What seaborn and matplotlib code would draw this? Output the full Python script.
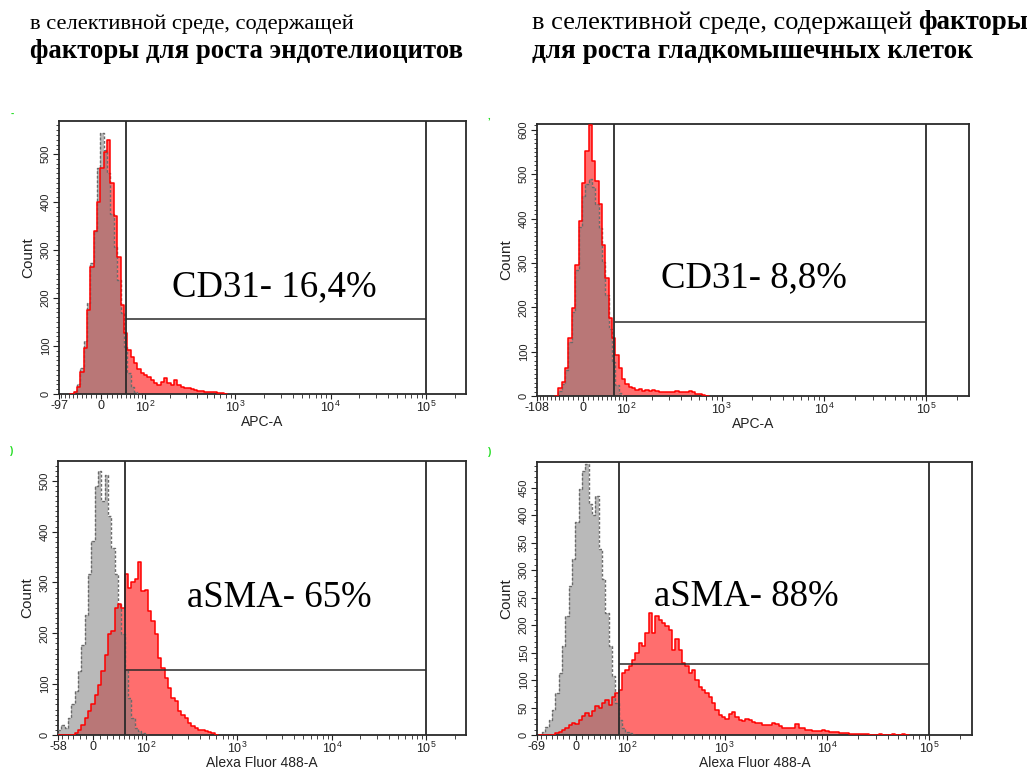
import matplotlib
matplotlib.use("Agg")
import matplotlib.pyplot as plt
import numpy as np
import seaborn as sns
from matplotlib import font_manager
from matplotlib.ticker import MultipleLocator

W, H = 1035, 769

# header text
head_left = ["в селективной среде, содержащей", "факторы для роста эндотелиоцитов"]
head_right_reg = "в селективной среде, содержащей"
head_right_bold = ["факторы", "для роста гладкомышечных клеток"]

# ---- top left: CD31, endothelial growth medium
# (first bin edge, last bin edge, number of bins) - bins uniform on the display scale
tl_bins = (-65.5, 827.0, 47)
tl_iso = [0, 5, 20, 55, 110, 190, 272, 340, 470, 545, 508, 460, 376, 307, 237, 168,
          98, 43, 15, 5, 0]
tl_stain = [0, 5, 15, 45, 95, 175, 265, 340, 400, 470, 505, 530, 440, 370, 285, 185,
            128, 92, 78, 64, 53, 43, 40, 36, 29, 22, 19, 26, 33, 22, 19, 29, 19, 15,
            13, 12, 10, 8, 7, 6, 5, 5, 5, 4, 3, 2, 0]

# ---- top right: CD31, smooth muscle growth medium
tr_bins = (-58.6, 742.5, 46)
tr_iso = [0, 12, 28, 58, 122, 190, 285, 380, 450, 478, 490, 470, 432, 379, 303, 228,
          152, 77, 24, 6, 0]
tr_stain = [0, 17, 32, 62, 130, 198, 296, 394, 480, 552, 611, 530, 485, 432, 341, 266,
            175, 130, 92, 62, 39, 28, 20, 17, 13, 15, 11, 13, 11, 13, 11, 10, 9, 9, 9,
            10, 11, 10, 9, 10, 11, 8, 5, 4, 3, 0]

# ---- bottom left: aSMA, endothelial growth medium
bl_bins = (-58.0, 624.0, 48)
bl_iso = [10, 20, 14, 33, 60, 86, 125, 178, 237, 316, 381, 490, 520, 460, 512, 430,
          368, 316, 257, 198, 125, 73, 33, 14, 7, 4, 0]
bl_stain = [0, 0, 0, 0, 0, 4, 10, 20, 33, 47, 60, 79, 99, 125, 158, 198, 204, 250,
            257, 250, 316, 289, 300, 306, 340, 283, 285, 243, 224, 198, 152, 132, 112,
            93, 73, 66, 47, 40, 33, 24, 17, 14, 10, 9, 7, 6, 4, 0]

# ---- bottom right: aSMA, smooth muscle growth medium
br_bins = (-65.4, 62986.0, 111)
br_iso = [0, 6, 15, 27, 46, 76, 113, 162, 216, 271,
          320, 387, 448, 480, 494, 420, 400, 436, 338, 284,
          223, 162, 107, 58, 27, 12, 6, 3, 0]
br_stain = [0, 0, 0, 0, 0, 3, 6, 9, 12, 18,
            22, 20, 28, 35, 40, 34, 43, 52, 49, 58,
            64, 55, 70, 76, 82, 113, 119, 125, 137, 149,
            168, 162, 186, 223, 186, 216, 210, 204, 198, 192,
            155, 174, 155, 131, 125, 113, 119, 101, 88, 82,
            76, 70, 58, 45, 36, 33, 30, 38, 42, 33,
            28, 26, 30, 27, 24, 21, 21, 18, 18, 18,
            21, 20, 16, 13, 13, 12, 12, 20, 12, 12,
            10, 9, 7, 7, 7, 9, 7, 5, 5, 5,
            4, 4, 3, 2, 2, 2, 2, 1, 1, 0,
            0, 0, 1, 0, 0, 0, 1, 0, 0, 1,
            0]

panels = [
    dict(box=(59, 121, 466, 394), c=80, xmin=-97, ymax=569, ystep=100,
         bins=tl_bins, iso=tl_iso, stain=tl_stain, gate=(49, 156),
         label="CD31- 16,4%", text_at=(0.529, 0.392), xlabel="APC-A",
         mark=(12, 114, "-")),
    dict(box=(537, 124, 969, 396), c=88, xmin=-108, ymax=613, ystep=100,
         bins=tr_bins, iso=tr_iso, stain=tr_stain, gate=(65.7, 166),
         label="CD31- 8,8%", text_at=(0.502, 0.434), xlabel="APC-A",
         mark=(489, 116, ",")),
    dict(box=(58, 461, 466, 735), c=60, xmin=-58, ymax=539, ystep=100,
         bins=bl_bins, iso=bl_iso, stain=bl_stain, gate=(51, 128),
         label="aSMA- 65%", text_at=(0.543, 0.5), xlabel="Alexa Fluor 488-A",
         mark=(12, 451, ")")),
    dict(box=(537, 462, 972, 735), c=70, xmin=-69, ymax=497, ystep=50,
         bins=br_bins, iso=br_iso, stain=br_stain, gate=(78.8, 130),
         label="aSMA- 88%", text_at=(0.482, 0.505), xlabel="Alexa Fluor 488-A",
         mark=(490, 452, ")")),
]

sns.set_style("ticks")
installed = {f.name for f in font_manager.fontManager.ttflist}
axis_font = "Liberation Sans Narrow" if "Liberation Sans Narrow" in installed else "Liberation Sans"
plt.rcParams["font.family"] = [axis_font, "DejaVu Sans"]
plt.rcParams["mathtext.fontset"] = "custom"
plt.rcParams["mathtext.rm"] = axis_font
plt.rcParams["text.color"] = "black"
serif = ["Liberation Serif", "DejaVu Serif"]

GRAY_FILL = (0.5, 0.5, 0.5, 0.55)
GRAY_EDGE = "#6a6a6a"
RED_FILL = "#ff6e6e"
RED_LINE = "#ff0000"
FRAME = "#2a2a2a"
TICK = "#222222"


def display_edges(fwd, inv, lo, hi, n):
    return inv(np.linspace(fwd(lo), fwd(hi), n + 1))


def step_fill(ax, edges, counts, color, z):
    e = edges[: len(counts) + 1]
    ax.fill_between(e, 0, list(counts) + [counts[-1]], step="post",
                    facecolor=color, edgecolor="none", linewidth=0, zorder=z)


def step_line(ax, edges, counts, z, **kw):
    e = list(edges[: len(counts) + 1])
    xs = [e[0]] + e + [e[-1]]
    ys = [0] + list(counts) + [counts[-1], 0]
    sns.lineplot(x=xs, y=ys, drawstyle="steps-post", estimator=None, sort=False,
                 zorder=z, ax=ax, **kw)


fig = plt.figure(figsize=(W / 100, H / 100), dpi=100)

for p in panels:
    l, t, r, b = p["box"]
    ax = fig.add_axes([l / W, 1 - b / H, (r - l) / W, (b - t) / H])
    c = p["c"]
    fwd = lambda v, c=c: np.arcsinh(np.asarray(v, dtype=float) / c)
    inv = lambda u, c=c: c * np.sinh(np.asarray(u, dtype=float))
    ax.set_xscale("function", functions=(fwd, inv))

    edges = display_edges(fwd, inv, *p["bins"])

    # stained sample fill, isotype control on top, then outlines
    step_fill(ax, edges, p["stain"], RED_FILL, 1)
    step_fill(ax, edges, p["iso"], GRAY_FILL, 2)
    step_line(ax, edges, p["iso"], 3, color=GRAY_EDGE, linewidth=1.0,
              linestyle=(0, (2, 1.3)))
    step_line(ax, edges, p["stain"], 3, color=RED_LINE, linewidth=1.1)

    # gate
    gx, gy = p["gate"]
    ax.axvline(gx, color=FRAME, lw=1.3, zorder=4)
    ax.axvline(1e5, color=FRAME, lw=1.3, zorder=4)
    ax.hlines(gy, gx, 1e5, color=FRAME, lw=1.1, zorder=4)

    ax.set_xlim(p["xmin"], 262144)
    ax.set_ylim(0, p["ymax"])

    xmin = p["xmin"]
    ax.set_xticks([xmin, 0, 1e2, 1e3, 1e4, 1e5],
                  labels=[str(xmin), "0", r"$\mathregular{10^2}$", r"$\mathregular{10^3}$",
                          r"$\mathregular{10^4}$", r"$\mathregular{10^5}$"])
    minor = [v for v in range(-100, 100, 10) if v > xmin and v != 0]
    for dec in (100, 1000, 10000):
        minor += [k * dec for k in range(2, 10)]
    minor.append(200000)
    ax.set_xticks(minor, minor=True)
    ax.xaxis.get_major_ticks()[0].set_pad(5)

    ax.set_yticks(np.arange(0, p["ymax"], p["ystep"]))
    ax.yaxis.set_minor_locator(MultipleLocator(10))
    ax.tick_params(axis="x", which="major", length=3.5, width=0.8, labelsize=9, pad=1,
                   colors=TICK)
    ax.tick_params(axis="x", which="minor", length=3, width=0.6, colors=TICK)
    ax.tick_params(axis="y", which="major", length=4, width=0.8, labelsize=8, pad=2,
                   labelrotation=90, colors=TICK)
    ax.tick_params(axis="y", which="minor", length=2, width=0.6, colors=TICK)
    for lab in ax.get_yticklabels():
        lab.set_va("center")

    for s in ax.spines.values():
        s.set_visible(True)
        s.set_color(FRAME)
        s.set_linewidth(1.3)

    ax.set_xlabel(p["xlabel"], fontsize=10, labelpad=0, color=TICK)
    ax.set_ylabel("Count", fontsize=11, labelpad=4, color=TICK)

    ax.text(*p["text_at"], p["label"], transform=ax.transAxes, ha="center", va="center",
            fontsize=26.5, family=serif, color="black", zorder=5)

    mx, my, mch = p["mark"]
    fig.text(mx / W, 1 - my / H, mch, color="#22dd22", fontsize=7, ha="center",
             va="center", fontweight="bold")

# headers
fig.text(30 / W, 1 - 29 / H, head_left[0], fontsize=16.2, family=serif, va="baseline")
fig.text(30 / W, 1 - 58 / H, head_left[1], fontsize=19.3, family=serif,
         fontweight="bold", va="baseline")
t_reg = fig.text(532 / W, 1 - 29 / H, head_right_reg, fontsize=19, family=serif,
                 va="baseline")
x_end = t_reg.get_window_extent(renderer=fig.canvas.get_renderer()).x1
fig.text((x_end + 0.22 * 19 * 100 / 72) / W, 1 - 29 / H, head_right_bold[0],
         fontsize=19.4, family=serif, fontweight="bold", va="baseline")
fig.text(532 / W, 1 - 58 / H, head_right_bold[1], fontsize=19.6, family=serif,
         fontweight="bold", va="baseline")

fig.savefig("out.png", dpi=100, facecolor="white")
